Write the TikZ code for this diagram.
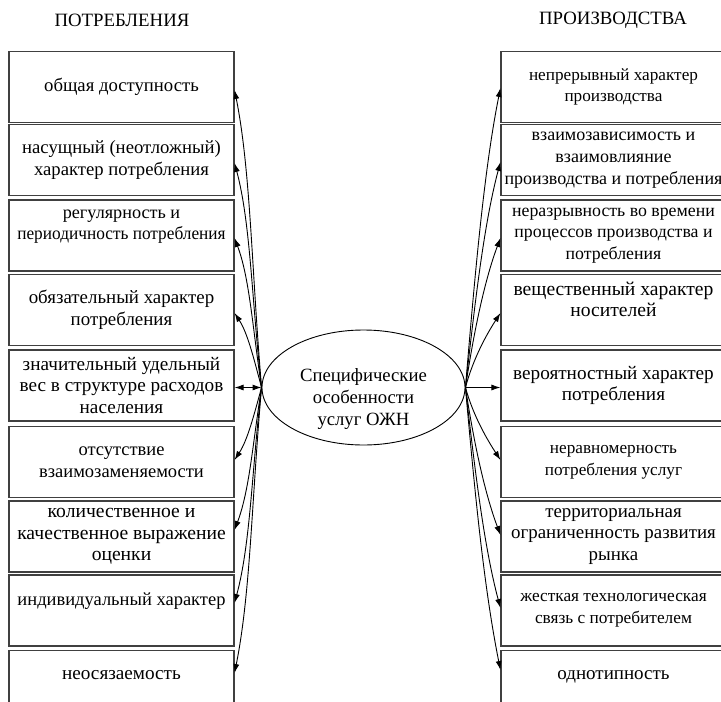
\documentclass[tikz,border=0pt]{standalone}
\usepackage{fontspec}
\usepackage{graphicx}
\setmainfont{Liberation Serif}
\usetikzlibrary{arrows.meta,shapes.geometric}
\newcommand\myfs[1]{\fontsize{#1}{21.7}\selectfont}
\begin{document}
\begin{tikzpicture}[x=1pt,y=-1pt,
  box/.style={draw=black!75, line width=1.1pt, minimum width=225pt, minimum height=71pt, inner sep=0pt, align=center, font=\myfs{18.5}},
  con/.style={line width=0.9pt, -{Latex[length=9pt,width=6pt]}},
  dcon/.style={line width=0.9pt, {Latex[length=9pt,width=6pt]}-{Latex[length=9pt,width=6pt]}}]
\useasboundingbox (0,0) rectangle (721,702);
\clip (0,0) rectangle (721,702);

\node[font=\myfs{18.8}] (hl) at (122,20) {ПОТРЕБЛЕНИЯ};
\node[font=\myfs{18.8}] (hr) at (613,20) {ПРОИЗВОДСТВА};

% left boxes
\node[box, font=\myfs{18.7}] (L1) at (121.5,87) {общая доступность};
\node[box, font=\myfs{18.7}] (L2) at (121.5,160) {насущный (неотложный)\\характер потребления};
\node[box, font=\myfs{18.2}] (L3) at (121.5,235.5) {регулярность и\\\scalebox{0.95}[1]{периодичность потребления}\\\mbox{}};
\node[box, font=\myfs{18.9}] (L4) at (121.5,310) {обязательный характер\\потребления};
\node[box, font=\myfs{19.2}] (L5) at (121.5,385.5) {значительный удельный\\вес в структуре расходов\\населения};
\node[box, font=\myfs{18.5}] (L6) at (121.5,462) {отсутствие\\взаимозаменяемости};
\node[box, font=\myfs{19.6}] (L7) at (121.5,536.5) {количественное и\\качественное выражение\\оценки};
\node[box, font=\myfs{18.5}] (L8) at (121.5,610.5) {индивидуальный характер\\\mbox{}};
\node[box, font=\myfs{19.2}] (L9) at (121.5,686) {неосязаемость\\\mbox{}};

% right boxes
\node[box, font=\myfs{17.2}] (R1) at (613.5,87) {непрерывный характер\\производства};
\node[box, font=\myfs{18}] (R2) at (613.5,160) {взаимозависимость и\\взаимовлияние\\производства и потребления};
\node[box, font=\myfs{17.8}] (R3) at (613.5,235.5) {неразрывность во времени\\процессов производства и\\потребления};
\node[box, font=\myfs{19.6}] (R4) at (613.5,310) {вещественный характер\\носителей\\\mbox{}};
\node[box, font=\myfs{19.2}] (R5) at (613.5,385.5) {вероятностный характер\\потребления};
\node[box, font=\myfs{17.2}] (R6) at (613.5,462) {неравномерность\\потребления услуг};
\node[box, font=\myfs{18.9}] (R7) at (613.5,536.5) {территориальная\\ограниченность развития\\рынка};
\node[box, font=\myfs{17.3}] (R8) at (613.5,610.5) {жесткая технологическая\\связь с потребителем};
\node[box, font=\myfs{19}] (R9) at (613.5,686) {однотипность\\\mbox{}};

% center
\node[ellipse, draw, line width=0.9pt, minimum width=203pt, minimum height=115pt, inner sep=0pt] (el) at (363.5,387.5) {};
\node[font=\myfs{18.7}, align=center] (elt) at (363.5,399) {Специфические\\особенности\\услуг ОЖН};

% left connectors
\draw[con] (el.west) .. controls +(-10,-119) and +(16,80) .. ([yshift=-3pt]L1.east);
\draw[con] (el.west) .. controls +(-10,-90) and +(16,60) .. ([yshift=-3pt]L2.east);
\draw[con] (el.west) .. controls +(-9,-60) and +(15,40) .. ([yshift=-2.5pt]L3.east);
\draw[con] (el.west) .. controls +(-8,-30) and +(13,20) .. ([yshift=-3pt]L4.east);
\draw[dcon] (el.west) -- (el.west -| L5.east);
\draw[con] (el.west) .. controls +(-8,29) and +(13,-20) .. ([yshift=2pt]L6.east);
\draw[con] (el.west) .. controls +(-9,57) and +(15,-40) .. ([yshift=6.5pt]L7.east);
\draw[con] (el.west) .. controls +(-10,86) and +(16,-60) .. ([yshift=7.5pt]L8.east);
\draw[con] (el.west) .. controls +(-10,114) and +(16,-80) .. ([yshift=13pt]L9.east);

% right connectors
\draw[con] (el.east) .. controls +(10,-120) and +(-16,80) .. ([yshift=-1pt]R1.west);
\draw[con] (el.east) .. controls +(10,-90) and +(-16,60) .. ([yshift=-2pt]R2.west);
\draw[con] (el.east) .. controls +(9,-60) and +(-15,40) .. ([yshift=-2.5pt]R3.west);
\draw[con] (el.east) .. controls +(8,-30) and +(-13,20) .. ([yshift=-3pt]R4.west);
\draw[con] (el.east) -- (el.east -| R5.west);
\draw[con] (el.east) .. controls +(8,29) and +(-13,-20) .. ([yshift=2pt]R6.west);
\draw[con] (el.east) .. controls +(9,59) and +(-15,-40) .. ([yshift=1.5pt]R7.west);
\draw[con] (el.east) .. controls +(10,88) and +(-16,-60) .. ([yshift=2.5pt]R8.west);
\draw[con] (el.east) .. controls +(10,113) and +(-16,-80) .. ([yshift=16pt]R9.west);
\end{tikzpicture}
\end{document}
